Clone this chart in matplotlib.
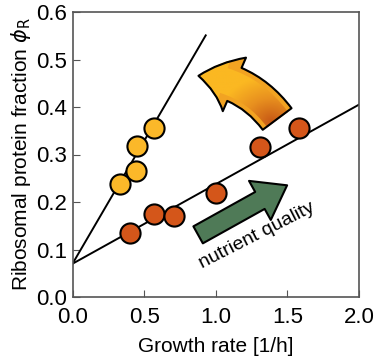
import numpy as np
import matplotlib
matplotlib.use('Agg')
from matplotlib import pyplot as plt
from matplotlib.patches import FancyArrowPatch
from matplotlib.colors import LinearSegmentedColormap

plt.rcParams['font.family'] = ['Liberation Sans', 'DejaVu Sans']
plt.rcParams['mathtext.fontset'] = 'dejavusans'

# data
yellow_x = [0.33, 0.44, 0.45, 0.57]
yellow_y = [0.237, 0.265, 0.318, 0.355]
orange_x = [0.40, 0.57, 0.71, 1.00, 1.31, 1.58]
orange_y = [0.135, 0.175, 0.171, 0.219, 0.315, 0.355]

# fitted lines (intercept, slope, x end)
yellow_fit = (0.07, 0.517, 0.93)
orange_fit = (0.07, 0.1675, 2.0)

fig = plt.figure(figsize=(3.74, 3.63), dpi=100)
ax = fig.add_axes([72.5/374, 1-297/363, (359-72.5)/374, (297-12)/363])

for b, m, xe in [yellow_fit, orange_fit]:
    xs = np.array([0, xe])
    ax.plot(xs, b + m*xs, color='black', lw=1.4, zorder=2)

ax.plot(yellow_x, yellow_y, 'o', ms=14.5, mfc='#fbb829', mec='black', mew=1.5, zorder=3)
ax.plot(orange_x, orange_y, 'o', ms=14.5, mfc='#d4561a', mec='black', mew=1.5, zorder=3)

# curved arrow with gradient fill
astyle = 'simple,head_width=3.0,head_length=1.9,tail_width=1.85'
p0, p1, cs = (1.44, 0.37), (0.86, 0.466), 'arc3,rad=0.24'
ax.add_patch(FancyArrowPatch(p0, p1, connectionstyle=cs, arrowstyle=astyle,
                             mutation_scale=14, fc='#f2a322', ec='none', zorder=3.8))
arr = FancyArrowPatch(p0, p1, connectionstyle=cs, arrowstyle=astyle,
                      mutation_scale=14, fc='none', ec='black', lw=1.5, zorder=4)
ax.add_patch(arr)
gx, gy = np.meshgrid(np.linspace(0, 1, 100), np.linspace(0, 1, 100))
g = np.clip(np.sqrt((gx - 0.8)**2 + (gy - 0.25)**2) * 1.4, 0, 1)
cm = LinearSegmentedColormap.from_list('o', ['#c85a16', '#e8901f', '#fbb822', '#fbb822'])
im = ax.imshow(g, cmap=cm, extent=[0.75, 1.55, 0.32, 0.52], origin='lower',
               aspect='auto', zorder=3.9)
im.set_clip_path(arr)

# green straight arrow
ax.add_patch(FancyArrowPatch((0.86, 0.128), (1.515, 0.238),
                             arrowstyle='simple,head_width=2.3,head_length=1.6,tail_width=1.0',
                             mutation_scale=14, fc='#4f7a57', ec='black', lw=1.5, zorder=4))
ax.text(1.29, 0.13, 'nutrient quality', rotation=27, fontsize=14,
        ha='center', va='center', rotation_mode='anchor')

ax.set_xlim(0, 2.0)
ax.set_ylim(0, 0.6)
ax.set_xticks([0, 0.5, 1.0, 1.5, 2.0])
ax.set_xticklabels(['0.0', '0.5', '1.0', '1.5', '2.0'])
ax.set_yticks([0, 0.1, 0.2, 0.3, 0.4, 0.5, 0.6])
ax.set_yticklabels(['0.0', '0.1', '0.2', '0.3', '0.4', '0.5', '0.6'])
ax.tick_params(direction='in', labelsize=16, length=5, color='#555555', pad=4)
ax.tick_params(axis='x', pad=7)
for s in ax.spines.values():
    s.set_color('#555555')
    s.set_linewidth(1.2)
ax.set_xlabel('Growth rate [1/h]', fontsize=15, labelpad=7)
ax.set_ylabel(r'Ribosomal protein fraction $\phi_{\mathrm{R}}$', fontsize=15, labelpad=2)

fig.savefig('out.png', dpi=100)
